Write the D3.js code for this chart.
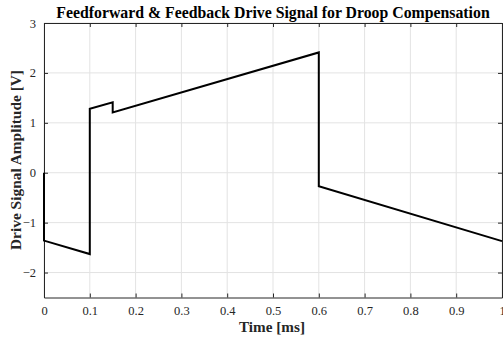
<!DOCTYPE html>
<html>
<head>
<meta charset="utf-8">
<script src="https://cdn.jsdelivr.net/npm/d3@7"></script>
<style>
  body { margin: 0; background: #fff; }
  text { font-family: "Liberation Serif", "DejaVu Serif", serif; }
</style>
</head>
<body>
<div id="chart"></div>
<script>
// drive signal samples (time in ms, amplitude in V)
var timeMs = [0, 0, 0.1, 0.1, 0.15, 0.15, 0.6, 0.6, 1.0];
var driveV = [0, -1.36, -1.63, 1.28, 1.41, 1.21, 2.41, -0.27, -1.37];

var xTicks = [0, 0.1, 0.2, 0.3, 0.4, 0.5, 0.6, 0.7, 0.8, 0.9, 1];
var yTicks = [-2, -1, 0, 1, 2, 3];

var W = 503, H = 338;
var margin = {top: 23, right: 1, bottom: 40.5, left: 44};
var width = 502 - margin.left,
    height = 297.5 - margin.top;

var svg = d3.select("#chart").append("svg")
    .attr("width", W)
    .attr("height", H);

var g = svg.append("g")
    .attr("transform", "translate(" + margin.left + "," + margin.top + ")");

var x = d3.scaleLinear().domain([0, 1]).range([0, width]);
var y = d3.scaleLinear().domain([-2.5, 3]).range([height, 0]);

// grid
g.append("g").selectAll("line.vg")
    .data(xTicks).enter().append("line")
    .attr("x1", function(d) { return x(d); })
    .attr("x2", function(d) { return x(d); })
    .attr("y1", 0).attr("y2", height)
    .attr("stroke", "#e3e3e3").attr("stroke-width", 1);
g.append("g").selectAll("line.hg")
    .data(yTicks).enter().append("line")
    .attr("x1", 0).attr("x2", width)
    .attr("y1", function(d) { return y(d); })
    .attr("y2", function(d) { return y(d); })
    .attr("stroke", "#e3e3e3").attr("stroke-width", 1);

// axes (ticks inside, MATLAB style)
var axCol = "#262626";
var xAxis = g.append("g")
    .attr("transform", "translate(0," + height + ")")
    .call(d3.axisBottom(x).tickValues(xTicks).tickSizeInner(-4).tickSizeOuter(0)
        .tickFormat(function(d) { return d3.format("~g")(d); }));
var xTop = g.append("g")
    .call(d3.axisTop(x).tickValues(xTicks).tickSizeInner(-4).tickSizeOuter(0).tickFormat(""));
var yAxis = g.append("g")
    .call(d3.axisLeft(y).tickValues(yTicks).tickSizeInner(-4).tickSizeOuter(0)
        .tickFormat(function(d) { return d3.format("~g")(d); }));
var yRight = g.append("g")
    .attr("transform", "translate(" + width + ",0)")
    .call(d3.axisRight(y).tickValues(yTicks).tickSizeInner(-4).tickSizeOuter(0).tickFormat(""));

[xAxis, xTop, yAxis, yRight].forEach(function(a) {
    a.select(".domain").attr("stroke", axCol).attr("stroke-width", 1);
    a.selectAll(".tick line").attr("stroke", axCol);
    a.selectAll(".tick text")
        .attr("fill", axCol)
        .style("font-family", "'Liberation Serif', serif")
        .style("font-size", "12.5px");
});
xAxis.selectAll(".tick text").attr("dy", "1.05em").attr("y", 4);
yAxis.selectAll(".tick text").attr("x", -8);

// signal line
var line = d3.line()
    .x(function(d, i) { return x(timeMs[i]); })
    .y(function(d) { return y(d); });

g.append("path")
    .datum(driveV)
    .attr("d", line)
    .attr("fill", "none")
    .attr("stroke", "#000")
    .attr("stroke-width", 2)
    .attr("stroke-linejoin", "miter");

// title + labels
svg.append("text")
    .attr("x", 273).attr("y", 18)
    .attr("text-anchor", "middle")
    .style("font-size", "15.8px")
    .style("font-weight", "bold")
    .attr("fill", "#000")
    .text("Feedforward & Feedback Drive Signal for Droop Compensation");

svg.append("text")
    .attr("x", 272).attr("y", 332)
    .attr("text-anchor", "middle")
    .style("font-size", "15.2px")
    .style("font-weight", "bold")
    .attr("fill", axCol)
    .text("Time [ms]");

svg.append("text")
    .attr("transform", "translate(21,160) rotate(-90)")
    .attr("text-anchor", "middle")
    .style("font-size", "15.4px")
    .style("font-weight", "bold")
    .attr("fill", axCol)
    .text("Drive Signal Amplitude [V]");
</script>
</body>
</html>
